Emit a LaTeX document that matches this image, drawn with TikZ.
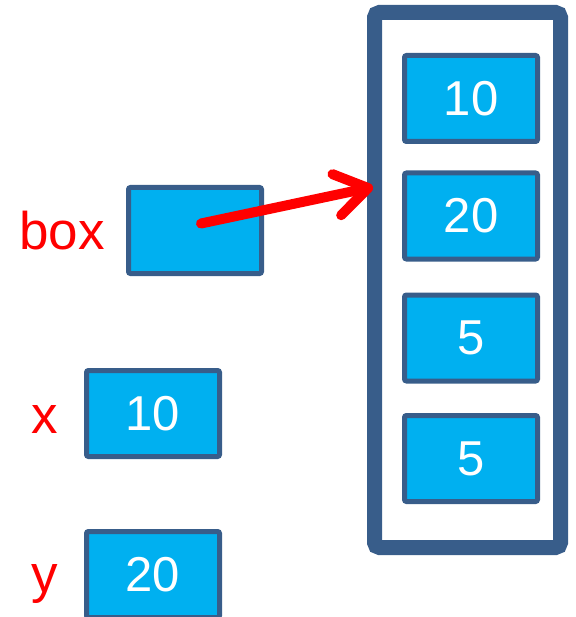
\documentclass[tikz,border=0pt]{standalone}
\usepackage{fontspec}
\setmainfont{Liberation Sans}
\usetikzlibrary{arrows.meta,positioning}
\definecolor{cell}{RGB}{0,176,240}
\definecolor{rim}{RGB}{56,93,138}
\definecolor{lbl}{RGB}{255,0,0}

\begin{document}
\begin{tikzpicture}[x=1pt, y=-1pt,
 every text node part/.style={align=center},
 var/.style={rectangle, inner sep=0pt, minimum width=133pt, minimum height=86pt, rounded corners=2pt, line width=5pt, draw=rim, fill=cell, text=white, font=\fontsize{49}{49}\selectfont},
 listbox/.style={rectangle, inner sep=0pt, minimum width=186pt, minimum height=535pt, rounded corners=5pt, line width=15pt, draw=rim},
 tag/.style={inner sep=0pt, anchor=base, text=lbl, font=\fontsize{53}{53}\selectfont},
 arrow/.style={-{Straight Barb[length=32pt, width=42pt, round]}, line width=10pt, draw=lbl, line cap=round}]

	\useasboundingbox (0,0) rectangle (575,617);

	\node[listbox] (list) at (467.5, 280) {};
	\node[var] (e1) at (471, 98.5) {10};
	\node[var] (e2) at (471, 216) {20};
	\node[var] (e3) at (471, 338) {5};
	\node[var] (e4) at (471, 458.5) {5};

	\node[var] (box) at (195, 230.5) {};
	\node[var] (x) at (153, 413.5) {10};
	\node[var] (y) at (153, 574.5) {20};

	\node[tag] (boxname) at (62, 250) {box};
	\node[tag] (xname) at (45, 433) {x};
	\node[tag] (yname) at (45, 592) {y};

	\coordinate (hit) at (373, 187);
	\draw ([shift={(6pt,7pt)}]box.center) edge [arrow] (hit);
\end{tikzpicture}
\end{document}
